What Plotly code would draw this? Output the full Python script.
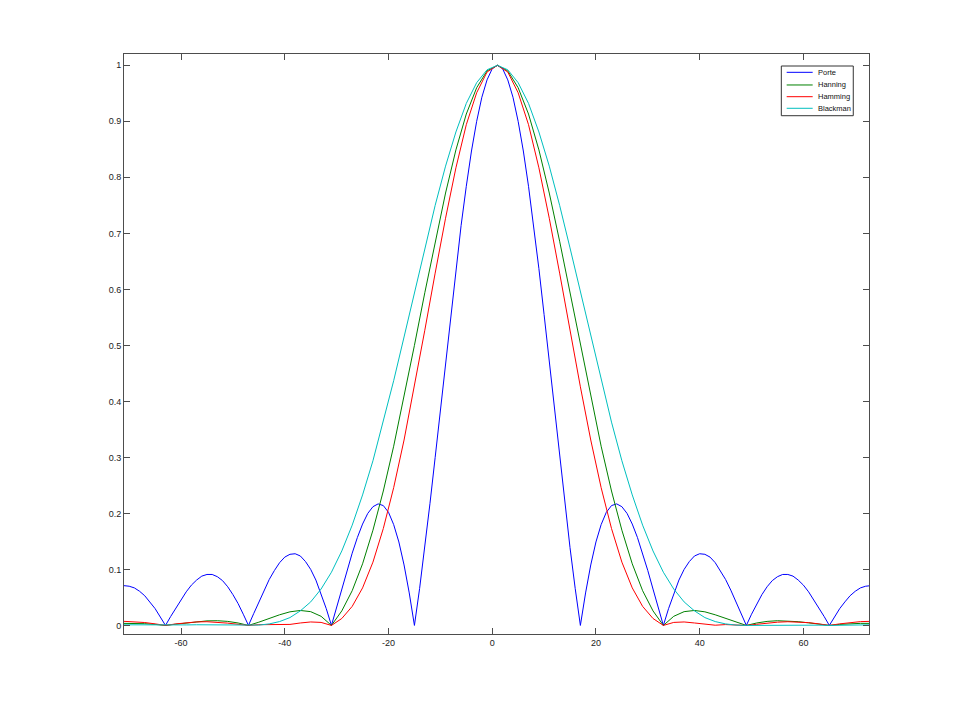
import plotly.graph_objects as go

# Frequency axis for the smooth windows (step 2)
freq = [-71, -69, -67, -65, -63, -61, -59, -57, -55, -53, -51, -49, -47, -45, -43, -41, -39, -37,
        -35, -33, -31, -29, -27, -25, -23, -21, -19, -17, -15, -13, -11, -9, -7, -5, -3, -1,
        1, 3, 5, 7, 9, 11, 13, 15, 17, 19, 21, 23, 25, 27, 29, 31, 33, 35, 37,
        39, 41, 43, 45, 47, 49, 51, 53, 55, 57, 59, 61, 63, 65, 67, 69, 71, 73]

# Frequency axis for the rectangular window (step 1)
freq_forte = [-71, -70, -69, -68, -67, -66, -65, -64, -63, -62, -61, -60, -59, -58, -57, -56, -55, -54,
              -53, -52, -51, -50, -49, -48, -47, -46, -45, -44, -43, -42, -41, -40, -39, -38, -37, -36,
              -35, -34, -33, -32, -31, -30, -29, -28, -27, -26, -25, -24, -23, -22, -21, -20, -19, -18,
              -17, -16, -15, -14, -13, -12, -11, -10, -9, -8, -7, -6, -5, -4, -3, -2, -1, 0,
              1, 2, 3, 4, 5, 6, 7, 8, 9, 10, 11, 12, 13, 14, 15, 16, 17, 18,
              19, 20, 21, 22, 23, 24, 25, 26, 27, 28, 29, 30, 31, 32, 33, 34, 35, 36,
              37, 38, 39, 40, 41, 42, 43, 44, 45, 46, 47, 48, 49, 50, 51, 52, 53, 54,
              55, 56, 57, 58, 59, 60, 61, 62, 63, 64, 65, 66, 67, 68, 69, 70, 71, 72, 73]

forte = [0.071, 0.070, 0.067, 0.061, 0.053, 0.042, 0.030, 0.015,
         0.000, 0.016, 0.031, 0.046, 0.060, 0.072, 0.081, 0.088,
         0.091, 0.091, 0.087, 0.080, 0.069, 0.055, 0.039, 0.020,
         0.000, 0.021, 0.042, 0.063, 0.082, 0.098, 0.112, 0.122,
         0.127, 0.128, 0.124, 0.114, 0.100, 0.081, 0.057, 0.030,
         0.000, 0.032, 0.065, 0.098, 0.129, 0.157, 0.181, 0.200,
         0.212, 0.217, 0.214, 0.202, 0.180, 0.149, 0.108, 0.058,
         0.000, 0.066, 0.139, 0.218, 0.300, 0.385, 0.471, 0.555,
         0.637, 0.714, 0.784, 0.847, 0.900, 0.943, 0.974, 0.994,
         1.000,
         0.994, 0.974, 0.943, 0.900, 0.847, 0.784, 0.714, 0.637,
         0.555, 0.471, 0.385, 0.300, 0.218, 0.139, 0.066, 0.000,
         0.058, 0.108, 0.149, 0.180, 0.202, 0.214, 0.217, 0.212,
         0.200, 0.181, 0.157, 0.129, 0.098, 0.065, 0.032, 0.000,
         0.030, 0.057, 0.081, 0.100, 0.114, 0.124, 0.128, 0.127,
         0.122, 0.112, 0.098, 0.082, 0.063, 0.042, 0.021, 0.000,
         0.020, 0.039, 0.055, 0.069, 0.080, 0.087, 0.091, 0.091,
         0.088, 0.081, 0.072, 0.060, 0.046, 0.031, 0.016, 0.000,
         0.015, 0.030, 0.042, 0.053, 0.061, 0.067, 0.070, 0.071]

hanning = [0.0037, 0.0037, 0.0031, 0.0018, 0.000, 0.0022, 0.0046, 0.0067, 0.0081, 0.0084, 0.0072, 0.0044,
           0.000, 0.0058, 0.0125, 0.0190, 0.0243, 0.0267, 0.0246, 0.0163, 0.000, 0.026, 0.062, 0.110,
           0.170, 0.240, 0.320, 0.408, 0.500, 0.594, 0.686, 0.772, 0.849, 0.913, 0.960, 0.990,
           1.000,
           0.990, 0.960, 0.913, 0.849, 0.772, 0.686, 0.594, 0.500, 0.408, 0.320, 0.240, 0.170,
           0.110, 0.062, 0.026, 0.000, 0.0163, 0.0246, 0.0267, 0.0243, 0.0190, 0.0125, 0.0058, 0.000,
           0.0044, 0.0072, 0.0084, 0.0081, 0.0067, 0.0046, 0.0022, 0.000, 0.0018, 0.0031, 0.0037, 0.0037]

hamming = [0.0073, 0.0068, 0.0052, 0.0028, 0.000, 0.0027, 0.0050, 0.0063, 0.0066, 0.0058, 0.0041, 0.0020,
           0.000, 0.0013, 0.0015, 0.0004, 0.0018, 0.0044, 0.0062, 0.0054, 0.000, 0.0124, 0.034, 0.067,
           0.113, 0.173, 0.246, 0.331, 0.426, 0.527, 0.629, 0.727, 0.817, 0.894, 0.951, 0.988,
           1.000,
           0.988, 0.951, 0.894, 0.817, 0.727, 0.629, 0.527, 0.426, 0.331, 0.246, 0.173, 0.113,
           0.067, 0.034, 0.0124, 0.000, 0.0054, 0.0062, 0.0044, 0.0018, 0.0004, 0.0015, 0.0013, 0.000,
           0.0020, 0.0041, 0.0058, 0.0066, 0.0063, 0.0050, 0.0027, 0.000, 0.0028, 0.0052, 0.0068, 0.0073]

blackman = [0.0011, 0.0010, 0.0008, 0.0005, 0.000, 0.0005, 0.0009, 0.0012, 0.0012, 0.0010, 0.0006, 0.0001,
            0.000, 0.0006, 0.0027, 0.0069, 0.014, 0.026, 0.042, 0.065, 0.095, 0.133, 0.179, 0.233,
            0.294, 0.363, 0.437, 0.515, 0.595, 0.674, 0.750, 0.820, 0.881, 0.932, 0.969, 0.992,
            1.000,
            0.992, 0.969, 0.932, 0.881, 0.820, 0.750, 0.674, 0.595, 0.515, 0.437, 0.363, 0.294,
            0.233, 0.179, 0.133, 0.095, 0.065, 0.042, 0.026, 0.014, 0.0069, 0.0027, 0.0006, 0.000,
            0.0001, 0.0006, 0.0010, 0.0012, 0.0012, 0.0009, 0.0005, 0.000, 0.0005, 0.0008, 0.0010, 0.0011]

series_names = ["Porte", "Hanning", "Hamming", "Blackman"]
series_x = [freq_forte, freq, freq, freq]
series_data = [forte, hanning, hamming, blackman]
series_colors = ["#0000ff", "#008000", "#ff0000", "#00bfbf"]

x_ticks = [-60, -40, -20, 0, 20, 40, 60]
x_tick_labels = ["-60", "-40", "-20", "0", "20", "40", "60"]
y_ticks = [0, 0.1, 0.2, 0.3, 0.4, 0.5, 0.6, 0.7, 0.8, 0.9, 1]
y_tick_labels = ["0", "0.1", "0.2", "0.3", "0.4", "0.5", "0.6", "0.7", "0.8", "0.9", "1"]

FONT = "Liberation Sans, Arial, sans-serif"

fig = go.Figure()
for name, xs, vals, col in zip(series_names, series_x, series_data, series_colors):
    fig.add_trace(go.Scatter(x=xs, y=vals, mode="lines", name=name,
                             line=dict(color=col, width=1), showlegend=False))

axis_common = dict(showline=True, linecolor="#4d4d4d", linewidth=1, mirror="ticks",
                   ticks="inside", ticklen=6, tickcolor="#4d4d4d", tickwidth=1,
                   showgrid=False, zeroline=False,
                   tickfont=dict(family=FONT, size=9, color="#222"))

fig.update_xaxes(range=[-71.0, 72.65], tickvals=x_ticks, ticktext=x_tick_labels, **axis_common)
fig.update_yaxes(range=[-0.0153, 1.0202], tickvals=y_ticks, ticktext=y_tick_labels, **axis_common)

# Legend drawn MATLAB-style (compact box) in paper coordinates
leg_box = dict(x0=0.8823, x1=0.9789, y0=0.8936, y1=0.9793)
leg_line_x = (0.8895, 0.9244)
leg_text_x = 0.9289
leg_rows_y = [0.9684, 0.9466, 0.9264, 0.9064]

shapes = [dict(type="rect", xref="paper", yref="paper", **leg_box,
               line=dict(color="#333", width=1), fillcolor="white", layer="above")]
annotations = []
for name, col, yy in zip(series_names, series_colors, leg_rows_y):
    shapes.append(dict(type="line", xref="paper", yref="paper",
                       x0=leg_line_x[0], x1=leg_line_x[1], y0=yy, y1=yy,
                       line=dict(color=col, width=1), layer="above"))
    annotations.append(dict(xref="paper", yref="paper", x=leg_text_x, y=yy, text=name,
                            showarrow=False, xanchor="left", yanchor="middle",
                            font=dict(family=FONT, size=7.5, color="#111")))

fig.update_layout(
    width=960, height=713,
    margin=dict(l=116, r=99, t=46, b=87),
    paper_bgcolor="white", plot_bgcolor="white",
    showlegend=False,
    shapes=shapes,
    annotations=annotations,
)

fig.write_html("out.html")
